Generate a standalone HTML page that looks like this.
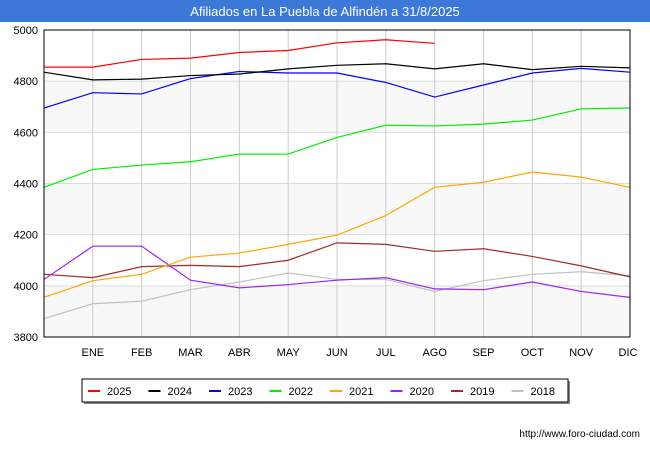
<!DOCTYPE html>
<html><head><meta charset="utf-8"><style>
body{margin:0;width:650px;height:450px;background:#fff;font-family:"Liberation Sans",sans-serif;overflow:hidden}
</style></head><body>
<svg width="650" height="450" id="c">
<rect x="0" y="0" width="650" height="22" fill="#3b78d8"/>
<text x="325" y="16" text-anchor="middle" fill="#fff" font-size="13">Afiliados en La Puebla de Alfindén a 31/8/2025</text>
<g id="grid"></g><g id="lines"></g>
<rect x="44" y="30" width="586" height="307" fill="none" stroke="#000" stroke-width="1"/>
<g id="legend"></g>
<text x="640" y="437" text-anchor="end" font-size="10" fill="#000">http://www.foro-ciudad.com</text>
</svg>
<script>
const months=["","ENE","FEB","MAR","ABR","MAY","JUN","JUL","AGO","SEP","OCT","NOV","DIC"];
const yTicks=[3800,4000,4200,4400,4600,4800,5000];
const seriesNames=["2025","2024","2023","2022","2021","2020","2019","2018"];
const seriesColors=["#ff0000","#000000","#0000ff","#00ee00","#ffa500","#a020f0","#a52a2a","#c0c0c0"];
const s2025=[4855,4855,4885,4890,4912,4920,4950,4962,4948];
const s2024=[4835,4805,4808,4822,4828,4848,4862,4868,4848,4868,4845,4858,4852];
const s2023=[4695,4755,4750,4810,4838,4832,4832,4795,4738,4785,4832,4850,4835];
const s2022=[4385,4455,4472,4485,4515,4515,4580,4628,4625,4632,4648,4692,4695];
const s2021=[3955,4020,4045,4112,4128,4162,4198,4275,4385,4405,4445,4425,4385];
const s2020=[4025,4155,4155,4022,3992,4005,4022,4032,3988,3985,4015,3978,3955];
const s2019=[4045,4032,4075,4080,4075,4100,4168,4162,4135,4145,4115,4078,4035];
const s2018=[3872,3930,3940,3985,4015,4050,4025,4025,3978,4020,4045,4055,4040];
const allSeries=[s2025,s2024,s2023,s2022,s2021,s2020,s2019,s2018];
const NS="http://www.w3.org/2000/svg";
const x0=44,x1=630,y0=337,y1=30;
const xs=i=>x0+i*(x1-x0)/12;
const ys=v=>y0-(v-3800)/(5000-3800)*(y0-y1);
function mk(t,a,p){const e=document.createElementNS(NS,t);for(const k in a)e.setAttribute(k,a[k]);p.appendChild(e);return e;}
const grid=document.getElementById('grid');
for(let i=0;i<yTicks.length-1;i++){
  if(i%2==0){const r=mk('rect',{x:x0,y:ys(yTicks[i+1]),width:x1-x0,height:ys(yTicks[i])-ys(yTicks[i+1]),fill:'#f8f8f8'},grid);
  
  }
}
yTicks.forEach(v=>{
  const l=mk('line',{x1:x0,x2:x1,y1:ys(v),y2:ys(v),stroke:'#dddddd'},grid);
  
  
  const t=mk('text',{x:38,y:ys(v)+4,'text-anchor':'end','font-size':'11',fill:'#000'},grid);t.textContent=v;
  
  
});
months.forEach((m,i)=>{
  if(i==0)return;
  const l=mk('line',{x1:xs(i),x2:xs(i),y1:y1,y2:y0,stroke:'#cccccc'},grid);
  
  
  const t=mk('text',{x:i==12?xs(i)-2:xs(i),y:356,'text-anchor':'middle','font-size':'11',fill:'#000'},grid);t.textContent=m;
  
  
});
const lines=document.getElementById('lines');
for(let k=allSeries.length-1;k>=0;k--){
  const pts=allSeries[k].map((v,i)=>xs(i)+','+ys(v)).join(' ');
  const p=mk('polyline',{points:pts,fill:'none',stroke:seriesColors[k],'stroke-width':'1.2'},lines);
  
  
}
const lg=document.getElementById('legend');
const sh=mk('rect',{x:84,y:381,width:486,height:23,fill:'#888'},lg);


const box=mk('rect',{x:82,y:379,width:486,height:23,fill:'#fff',stroke:'#000'},lg);


seriesNames.forEach((n,k)=>{
  const bx=88+k*60.5;
  const g=mk('g',{},lg);
  
  
  mk('line',{x1:bx,x2:bx+12,y1:391,y2:391,stroke:seriesColors[k],'stroke-width':'2'},g);
  const t=mk('text',{x:bx+19,y:395,'font-size':'11',fill:'#000'},g);t.textContent=n;
});
</script>
</body></html>
